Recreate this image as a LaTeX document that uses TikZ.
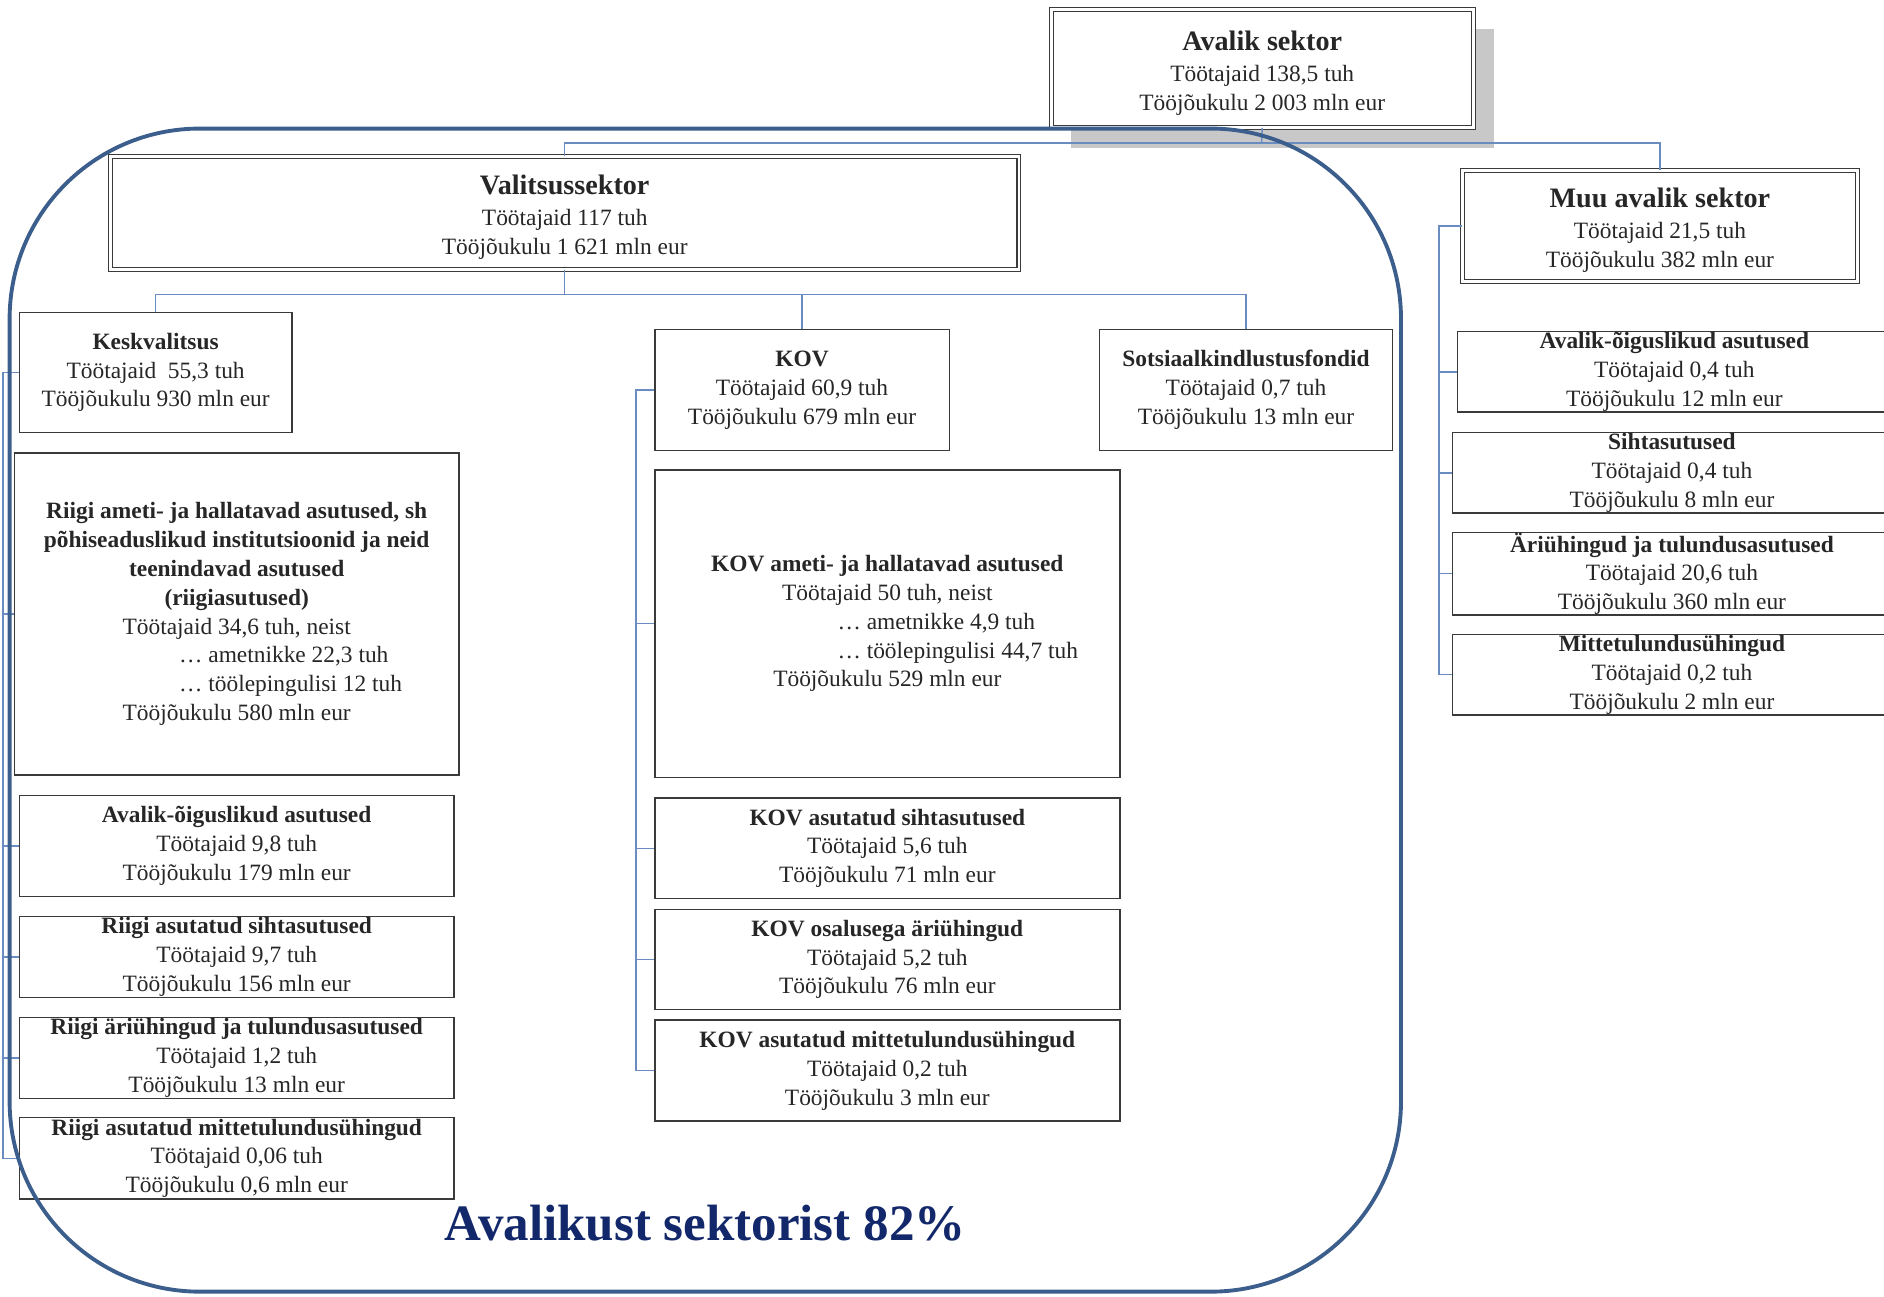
\documentclass[tikz,border=0pt]{standalone}
\usepackage{fontspec}
\setmainfont{Liberation Serif}
\usepackage{tikz}

\definecolor{boxline}{HTML}{3A3A3A}
\definecolor{connline}{HTML}{6A8CC0}
\definecolor{frameblue}{HTML}{3B5E8C}
\definecolor{navy}{HTML}{12286A}
\definecolor{shadowgray}{HTML}{C8C8C8}
\newcommand{\ux}{0.024cm}
\newcommand{\ttl}[1]{{\bfseries\fontsize{16}{19.5}\selectfont\rule{0pt}{16.3pt}#1}\\[1.4pt]}

\begin{document}
\begin{tikzpicture}[x=0.024cm, y=-0.024cm,
    box/.style={draw=boxline, line width=0.8pt, fill=white, inner sep=0pt,
      align=center, text=black!85, font=\fontsize{13.3}{16.4}\selectfont},
    mainbox/.style={box, double=white, double distance=1.6pt, line width=0.6pt},
    size/.style 2 args={minimum width=#1*\ux, minimum height=#2*\ux},
    conn/.style={draw=connline, line width=0.8pt}]
    \useasboundingbox (0,0) rectangle (1568,1079);
    \clip (0,0) rectangle (1568,1079);
    % Shadow of the top box
    \fill[shadowgray] (891,24) rectangle (1243,123);
    % Top level
    \node[mainbox, size={351}{98}] (avalik) at (1050.5,57)
      {\ttl{Avalik sektor}Töötajaid 138,5 tuh\\Tööjõukulu 2 003 mln eur};
    \node[mainbox, size={756}{94}] (valitsus) at (470,177)
      {\ttl{Valitsussektor}Töötajaid 117 tuh\\Tööjõukulu 1 621 mln eur};
    \node[mainbox, size={329}{92}] (muu) at (1381.5,188)
      {\ttl{Muu avalik sektor}Töötajaid 21,5 tuh\\Tööjõukulu 382 mln eur};
    % Second level
    \node[box, size={227}{100}] (kesk) at (129.5,310)
      {\textbf{Keskvalitsus}\\Töötajaid \ 55,3 tuh\\Tööjõukulu 930 mln eur};
    \node[box, size={245}{101}] (kov) at (667.5,324.5)
      {\textbf{KOV}\\Töötajaid 60,9 tuh\\Tööjõukulu 679 mln eur};
    \node[box, size={244}{101}] (sots) at (1037,324.5)
      {\textbf{Sotsiaalkindlustusfondid}\\Töötajaid 0,7 tuh\\Tööjõukulu 13 mln eur};
    % Keskvalitsus units
    \node[box, size={370}{268}] (riigiamet) at (197,511)
      {\textbf{Riigi ameti- ja hallatavad asutused, sh}\\
       \textbf{põhiseaduslikud institutsioonid ja neid}\\
       \textbf{teenindavad asutused}\\
       \textbf{(riigiasutused)}\\
       Töötajaid 34,6 tuh, neist\\
       \makebox[2.3cm][l]{… ametnikke 22,3 tuh}\\
       \makebox[2.3cm][l]{… töölepingulisi 12 tuh}\\
       Tööjõukulu 580 mln eur};
    \node[box, size={362}{84}] (riigiaoa) at (197,704)
      {\textbf{Avalik-õiguslikud asutused}\\Töötajaid 9,8 tuh\\Tööjõukulu 179 mln eur};
    \node[box, size={362}{67}] (riigisa) at (197,796.5)
      {\textbf{Riigi asutatud sihtasutused}\\Töötajaid 9,7 tuh\\Tööjõukulu 156 mln eur};
    \node[box, size={362}{67}] (riigiari) at (197,880.5)
      {\textbf{Riigi äriühingud ja tulundusasutused}\\Töötajaid 1,2 tuh\\Tööjõukulu 13 mln eur};
    \node[box, size={362}{68}] (riigimtu) at (197,964)
      {\textbf{Riigi asutatud mittetulundusühingud}\\Töötajaid 0,06 tuh\\Tööjõukulu 0,6 mln eur};
    % KOV units
    \node[box, size={387}{256}] (kovamet) at (738.5,519)
      {\textbf{KOV ameti- ja hallatavad asutused}\\
       Töötajaid 50 tuh, neist\\
       \makebox[1.99cm][l]{… ametnikke 4,9 tuh}\\
       \makebox[1.99cm][l]{… töölepingulisi 44,7 tuh}\\
       Tööjõukulu 529 mln eur};
    \node[box, size={387}{84}] (kovsa) at (738.5,706)
      {\textbf{KOV asutatud sihtasutused}\\Töötajaid 5,6 tuh\\Tööjõukulu 71 mln eur};
    \node[box, size={387}{83}] (kovari) at (738.5,798.5)
      {\textbf{KOV osalusega äriühingud}\\Töötajaid 5,2 tuh\\Tööjõukulu 76 mln eur};
    \node[box, size={387}{84}] (kovmtu) at (738.5,891)
      {\textbf{KOV asutatud mittetulundusühingud}\\Töötajaid 0,2 tuh\\Tööjõukulu 3 mln eur};
    % Muu avalik sektor units
    \node[box, size={361}{67}] (muuaoa) at (1393.5,309.5)
      {\textbf{Avalik-õiguslikud asutused}\\Töötajaid 0,4 tuh\\Tööjõukulu 12 mln eur};
    \node[box, size={365}{67}] (muusa) at (1391.5,393.5)
      {\textbf{Sihtasutused}\\Töötajaid 0,4 tuh\\Tööjõukulu 8 mln eur};
    \node[box, size={365}{67}] (muuari) at (1391.5,477.5)
      {\textbf{Äriühingud ja tulundusasutused}\\Töötajaid 20,6 tuh\\Tööjõukulu 360 mln eur};
    \node[box, size={365}{67}] (muumtu) at (1391.5,561.5)
      {\textbf{Mittetulundusühingud}\\Töötajaid 0,2 tuh\\Tööjõukulu 2 mln eur};
    % Connectors
    \coordinate (bus1) at (1050,119);
    \coordinate (bus2) at (470,245);
    \draw[conn] (avalik.south) -- (bus1);
    \draw[conn] (valitsus.north) -- (valitsus.north |- bus1) -- (muu.north |- bus1) -- (muu.north);
    \draw[conn] (valitsus.south) -- (bus2);
    \draw[conn] (kesk.north) -- (kesk.north |- bus2) -- (sots.north |- bus2) -- (sots.north);
    \draw[conn] (kov.north |- bus2) -- (kov.north);
    % Hanging buses
    \draw[conn] (kesk.west) -- ++(-13,0) coordinate (lb) |- (riigimtu.west);
    \foreach \n in {riigiamet, riigiaoa, riigisa, riigiari}
      \draw[conn] (lb |- \n.west) -- (\n.west);
    \draw[conn] (kov.west) -- ++(-15,0) coordinate (kb) |- (kovmtu.west);
    \foreach \n in {kovamet, kovsa, kovari}
      \draw[conn] (kb |- \n.west) -- (\n.west);
    \draw[conn] (muu.west) -- ++(-19,0) coordinate (mb) |- (muumtu.west);
    \foreach \n in {muuaoa, muusa, muuari}
      \draw[conn] (mb |- \n.west) -- (\n.west);
    % Frame round the government sector
    \draw[frameblue, line width=2.2pt, rounded corners=3.8cm] (8,107) rectangle (1166,1075);
    \node[font=\bfseries\fontsize{29}{34}\selectfont, text=navy, inner sep=0pt] (share)
      at (587,1018) {Avalikust sektorist 82\%};
\end{tikzpicture}
\end{document}
